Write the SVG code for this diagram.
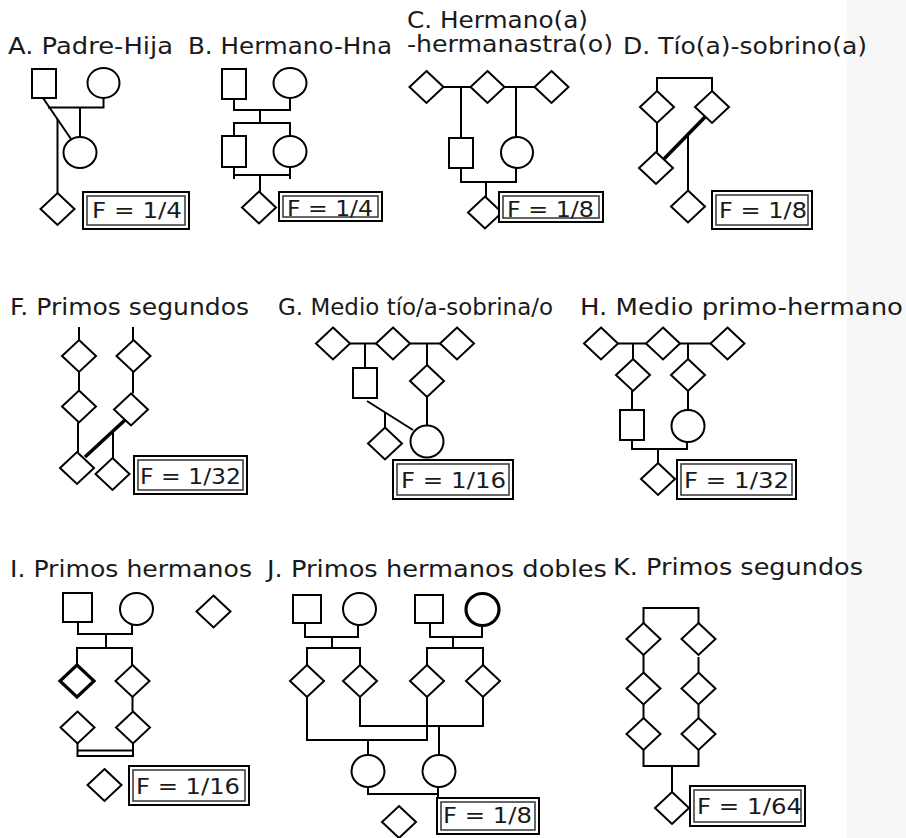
<svg xmlns="http://www.w3.org/2000/svg" width="906" height="838" viewBox="0 0 906 838">
<style>
.n{fill:#fff;stroke:#000;stroke-width:2}
.b{stroke-width:3.2}
.l{fill:none;stroke:#000;stroke-width:2}
.k{fill:none;stroke:#000;stroke-width:3.6}
.t{font-family:"DejaVu Sans",Verdana,sans-serif;font-size:23px;fill:#1a1a1a}
.f{font-family:"DejaVu Sans",Verdana,sans-serif;font-size:20.5px;fill:#1a1a1a}
.o{fill:#fff;stroke:#000;stroke-width:2}
.i{fill:none;stroke:#333;stroke-width:1.5}
</style>
<rect x="0" y="0" width="906" height="838" fill="#fff"/>
<rect x="847" y="0" width="59" height="838" fill="#f7f7f7"/>

<g id="titles">
<text class="t" x="8" y="54" textLength="165" lengthAdjust="spacingAndGlyphs">A. Padre-Hija</text>
<text class="t" x="188" y="54" textLength="204" lengthAdjust="spacingAndGlyphs">B. Hermano-Hna</text>
<text class="t" x="407" y="28" textLength="181" lengthAdjust="spacingAndGlyphs">C. Hermano(a)</text>
<text class="t" x="407" y="52" textLength="206" lengthAdjust="spacingAndGlyphs">-hermanastra(o)</text>
<text class="t" x="623" y="54" textLength="244" lengthAdjust="spacingAndGlyphs">D. Tío(a)-sobrino(a)</text>
<text class="t" x="10" y="315" textLength="239" lengthAdjust="spacingAndGlyphs">F. Primos segundos</text>
<text class="t" x="278" y="315" textLength="275" lengthAdjust="spacingAndGlyphs">G. Medio tío/a-sobrina/o</text>
<text class="t" x="580" y="315" textLength="323" lengthAdjust="spacingAndGlyphs">H. Medio primo-hermano</text>
<text class="t" x="10" y="577" textLength="242" lengthAdjust="spacingAndGlyphs">I. Primos hermanos</text>
<text class="t" x="267" y="577" textLength="340" lengthAdjust="spacingAndGlyphs">J. Primos hermanos dobles</text>
<text class="t" x="613" y="575" textLength="250" lengthAdjust="spacingAndGlyphs">K. Primos segundos</text>
</g>

<g id="connectors">
<!-- A -->
<line class="l" x1="43" y1="98" x2="71" y2="139"/>
<polyline class="l" points="48,107.5 103.5,107.5 103.5,98"/>
<line class="l" x1="80" y1="107.5" x2="80" y2="137"/>
<line class="l" x1="57.5" y1="119" x2="57.5" y2="193"/>
<!-- B -->
<polyline class="l" points="234,99 234,110 290,110 290,98"/>
<line class="l" x1="260" y1="110" x2="260" y2="123"/>
<polyline class="l" points="234,136 234,123 290,123 290,136"/>
<line class="l" x1="234" y1="167" x2="234" y2="179"/>
<line class="l" x1="290" y1="167" x2="290" y2="179"/>
<line class="l" x1="234" y1="175" x2="290" y2="175"/>
<line class="l" x1="260" y1="175" x2="260" y2="192"/>
<!-- C -->
<line class="l" x1="443" y1="87" x2="472" y2="87"/>
<line class="l" x1="503" y1="87" x2="535" y2="87"/>
<line class="l" x1="461" y1="87" x2="461" y2="138"/>
<line class="l" x1="516" y1="87" x2="516" y2="137"/>
<polyline class="l" points="461,168 461,182 516,182 516,168"/>
<line class="l" x1="486" y1="182" x2="486" y2="197"/>
<!-- D -->
<polyline class="l" points="657,91 657,78 712,78 712,91"/>
<line class="l" x1="657" y1="123" x2="657" y2="152"/>
<line class="k" x1="663" y1="160" x2="705" y2="117"/>
<line class="l" x1="688" y1="135" x2="688" y2="190.5"/>
<!-- F -->
<line class="l" x1="79" y1="327" x2="79" y2="340"/>
<line class="l" x1="79" y1="372" x2="79" y2="390.5"/>
<line class="l" x1="78" y1="422.5" x2="78" y2="452"/>
<line class="l" x1="133" y1="327" x2="133" y2="340"/>
<line class="l" x1="133" y1="372" x2="133" y2="393.5"/>
<line class="k" x1="85" y1="457" x2="125" y2="420"/>
<line class="l" x1="113" y1="431" x2="113" y2="458"/>
<!-- G -->
<line class="l" x1="349" y1="343.5" x2="377" y2="343.5"/>
<line class="l" x1="409" y1="343.5" x2="441" y2="343.5"/>
<line class="l" x1="365" y1="343.5" x2="365" y2="368"/>
<line class="l" x1="427" y1="343.5" x2="427" y2="365"/>
<line class="l" x1="427" y1="397" x2="427" y2="425"/>
<line class="l" x1="367" y1="401" x2="413" y2="430"/>
<line class="l" x1="385" y1="412" x2="385" y2="427.5"/>
<!-- H -->
<line class="l" x1="617" y1="343.5" x2="648" y2="343.5"/>
<line class="l" x1="678" y1="343.5" x2="712" y2="343.5"/>
<line class="l" x1="633" y1="343.5" x2="633" y2="359"/>
<line class="l" x1="688" y1="343.5" x2="688" y2="359"/>
<line class="l" x1="632" y1="391" x2="632" y2="410"/>
<line class="l" x1="688" y1="391" x2="688" y2="410"/>
<polyline class="l" points="632,440 632,449 687,449 687,442"/>
<line class="l" x1="658" y1="449" x2="658" y2="463"/>
<!-- I -->
<polyline class="l" points="78,622 78,634 132,634 132,625"/>
<line class="l" x1="106" y1="634" x2="106" y2="648"/>
<polyline class="l" points="77,665 77,648 132,648 132,665"/>
<line class="l" x1="132.5" y1="697" x2="132.5" y2="711.5"/>
<polyline class="l" points="77.5,743 77.5,756 133,756 133,743"/>
<line class="l" x1="77.5" y1="750.5" x2="133" y2="750.5"/>
<!-- J -->
<polyline class="l" points="305,623 305,637 358,637 358,625"/>
<line class="l" x1="332" y1="637" x2="332" y2="648"/>
<polyline class="l" points="307,665 307,648 360,648 360,665"/>
<polyline class="l" points="430,623 430,637 482,637 482,626"/>
<line class="l" x1="453" y1="637" x2="453" y2="648"/>
<polyline class="l" points="427,665 427,648 483,648 483,665"/>
<polyline class="l" points="307,697 307,740 427,740 427,697"/>
<polyline class="l" points="360,697 360,726 483,726 483,697"/>
<line class="l" x1="368" y1="740" x2="368" y2="755"/>
<line class="l" x1="439" y1="726" x2="439" y2="755"/>
<polyline class="l" points="368,787 368,794 438,794"/>
<line class="l" x1="438" y1="787" x2="438" y2="834"/>
<!-- K -->
<polyline class="l" points="643.5,623 643.5,608 698.5,608 698.5,623"/>
<line class="l" x1="643.5" y1="655" x2="643.5" y2="672.5"/>
<line class="l" x1="698.5" y1="657" x2="698.5" y2="672.5"/>
<line class="l" x1="643.5" y1="704.5" x2="643.5" y2="718"/>
<line class="l" x1="698.5" y1="704.5" x2="698.5" y2="718"/>
<polyline class="l" points="643.5,750 643.5,766 698.5,766 698.5,750"/>
<line class="l" x1="672" y1="766" x2="672" y2="792"/>
</g>

<!-- A nodes -->
<g id="A-father"><rect class="n" x="32" y="69" width="24" height="29"/></g>
<g id="A-mother"><ellipse class="n" cx="103.5" cy="83" rx="16" ry="15"/></g>
<g id="A-daughter"><ellipse class="n" cx="80" cy="152.5" rx="16.5" ry="15.5"/></g>
<g id="A-child"><polygon class="n" points="57.5,193 74.5,209 57.5,225 40.5,209"/></g>
<g id="A-F"><rect class="o" x="83" y="192" width="106" height="37"/><rect class="i" x="87" y="196" width="98" height="29"/><text class="f" x="92" y="218" textLength="90" lengthAdjust="spacingAndGlyphs">F = 1/4</text></g>

<!-- B nodes -->
<g id="B-father"><rect class="n" x="222" y="69" width="24" height="30"/></g>
<g id="B-mother"><ellipse class="n" cx="290" cy="83" rx="16.5" ry="15"/></g>
<g id="B-brother"><rect class="n" x="222" y="136" width="24" height="31"/></g>
<g id="B-sister"><ellipse class="n" cx="290" cy="151.5" rx="16.5" ry="15.5"/></g>
<g id="B-child"><polygon class="n" points="259,191.5 276,207.5 259,223.5 242,207.5"/></g>
<g id="B-F"><rect class="o" x="279" y="192" width="103" height="29"/><rect class="i" x="283" y="196" width="95" height="21"/><text class="f" x="287" y="216" textLength="86" lengthAdjust="spacingAndGlyphs">F = 1/4</text></g>

<!-- C nodes -->
<g id="C-p1"><polygon class="n" points="426.5,71 443.5,87 426.5,103 409.5,87"/></g>
<g id="C-p2"><polygon class="n" points="487.5,71 504.5,87 487.5,103 470.5,87"/></g>
<g id="C-p3"><polygon class="n" points="551.5,71 568.5,87 551.5,103 534.5,87"/></g>
<g id="C-son"><rect class="n" x="449" y="138" width="24" height="30"/></g>
<g id="C-daughter"><ellipse class="n" cx="517" cy="152.5" rx="16" ry="15.5"/></g>
<g id="C-child"><polygon class="n" points="485,196.5 502,212.5 485,228.5 468,212.5"/></g>
<g id="C-F"><rect class="o" x="499" y="192" width="104" height="30"/><rect class="i" x="503" y="196" width="96" height="22"/><text class="f" x="507" y="217" textLength="87" lengthAdjust="spacingAndGlyphs">F = 1/8</text></g>

<!-- D nodes -->
<g id="D-s1"><polygon class="n" points="657,91 674,107 657,123 640,107"/></g>
<g id="D-s2"><polygon class="n" points="712,91 729,107 712,123 695,107"/></g>
<g id="D-c1"><polygon class="n" points="656,152 673,168 656,184 639,168"/></g>
<g id="D-child"><polygon class="n" points="688,190.5 705,206.5 688,222.5 671,206.5"/></g>
<g id="D-F"><rect class="o" x="712" y="191" width="100" height="38"/><rect class="i" x="716" y="195" width="92" height="30"/><text class="f" x="719" y="218" textLength="88" lengthAdjust="spacingAndGlyphs">F = 1/8</text></g>

<!-- F nodes -->
<g id="F-a1"><polygon class="n" points="79,340 96,356 79,372 62,356"/></g>
<g id="F-a2"><polygon class="n" points="79,390.5 96,406.5 79,422.5 62,406.5"/></g>
<g id="F-a3"><polygon class="n" points="77,452 94,468 77,484 60,468"/></g>
<g id="F-b1"><polygon class="n" points="133.5,340 150.5,356 133.5,372 116.5,356"/></g>
<g id="F-b2"><polygon class="n" points="131,393.5 148,409.5 131,425.5 114,409.5"/></g>
<g id="F-child"><polygon class="n" points="112.5,458 129.5,474 112.5,490 95.5,474"/></g>
<g id="F-F"><rect class="o" x="134" y="456" width="113" height="38"/><rect class="i" x="138" y="460" width="105" height="30"/><text class="f" x="140" y="484" textLength="101" lengthAdjust="spacingAndGlyphs">F = 1/32</text></g>

<!-- G nodes -->
<g id="G-p1"><polygon class="n" points="333,327.5 350,343.5 333,359.5 316,343.5"/></g>
<g id="G-p2"><polygon class="n" points="393,327.5 410,343.5 393,359.5 376,343.5"/></g>
<g id="G-p3"><polygon class="n" points="457,327.5 474,343.5 457,359.5 440,343.5"/></g>
<g id="G-uncle"><rect class="n" x="353" y="368" width="24" height="30"/></g>
<g id="G-sib"><polygon class="n" points="427,365 444,381 427,397 410,381"/></g>
<g id="G-niece"><ellipse class="n" cx="427" cy="441.5" rx="16.5" ry="16"/></g>
<g id="G-child"><polygon class="n" points="385,427.5 402,443.5 385,459.5 368,443.5"/></g>
<g id="G-F"><rect class="o" x="393" y="460" width="120" height="39"/><rect class="i" x="397" y="464" width="112" height="31"/><text class="f" x="401" y="488" textLength="105" lengthAdjust="spacingAndGlyphs">F = 1/16</text></g>

<!-- H nodes -->
<g id="H-p1"><polygon class="n" points="601,327.5 618,343.5 601,359.5 584,343.5"/></g>
<g id="H-p2"><polygon class="n" points="663,327.5 680,343.5 663,359.5 646,343.5"/></g>
<g id="H-p3"><polygon class="n" points="727.5,327.5 744.5,343.5 727.5,359.5 710.5,343.5"/></g>
<g id="H-c1"><polygon class="n" points="633,359 650,375 633,391 616,375"/></g>
<g id="H-c2"><polygon class="n" points="688,359 705,375 688,391 671,375"/></g>
<g id="H-male"><rect class="n" x="620" y="410" width="24" height="30"/></g>
<g id="H-female"><ellipse class="n" cx="688" cy="426" rx="16.5" ry="16"/></g>
<g id="H-child"><polygon class="n" points="658,463 675,479 658,495 641,479"/></g>
<g id="H-F"><rect class="o" x="677" y="460" width="119" height="39"/><rect class="i" x="681" y="464" width="111" height="31"/><text class="f" x="684" y="488" textLength="105" lengthAdjust="spacingAndGlyphs">F = 1/32</text></g>

<!-- I nodes -->
<g id="I-father"><rect class="n" x="63" y="593" width="29" height="29"/></g>
<g id="I-mother"><ellipse class="n" cx="136.5" cy="609" rx="16.5" ry="16"/></g>
<g id="I-extra"><polygon class="n" points="213.5,595.5 230.5,611.5 213.5,627.5 196.5,611.5"/></g>
<g id="I-s1"><polygon class="n b" points="77,665 94,681 77,697 60,681"/></g>
<g id="I-s2"><polygon class="n" points="132.5,665 149.5,681 132.5,697 115.5,681"/></g>
<g id="I-c1"><polygon class="n" points="77.5,711.5 94.5,727.5 77.5,743.5 60.5,727.5"/></g>
<g id="I-c2"><polygon class="n" points="133,711.5 150,727.5 133,743.5 116,727.5"/></g>
<g id="I-child"><polygon class="n" points="104.5,769 121.5,785 104.5,801 87.5,785"/></g>
<g id="I-F"><rect class="o" x="129" y="766" width="120" height="39"/><rect class="i" x="133" y="770" width="112" height="31"/><text class="f" x="136" y="794" textLength="104" lengthAdjust="spacingAndGlyphs">F = 1/16</text></g>

<!-- J nodes -->
<g id="J-f1"><rect class="n" x="293" y="595" width="28" height="28"/></g>
<g id="J-m1"><ellipse class="n" cx="359.5" cy="609" rx="16.5" ry="16"/></g>
<g id="J-f2"><rect class="n" x="415" y="595" width="28" height="28"/></g>
<g id="J-m2"><ellipse class="n b" cx="482.5" cy="609.5" rx="16.5" ry="16"/></g>
<g id="J-s1"><polygon class="n" points="307,665 324,681 307,697 290,681"/></g>
<g id="J-s2"><polygon class="n" points="360,665 377,681 360,697 343,681"/></g>
<g id="J-s3"><polygon class="n" points="427,665 444,681 427,697 410,681"/></g>
<g id="J-s4"><polygon class="n" points="483,665 500,681 483,697 466,681"/></g>
<g id="J-c1"><ellipse class="n" cx="368" cy="771" rx="16.5" ry="16"/></g>
<g id="J-c2"><ellipse class="n" cx="439" cy="771" rx="16.5" ry="16"/></g>
<g id="J-child"><polygon class="n" points="399,806 416,822 399,838 382,822"/></g>
<g id="J-F"><rect class="o" x="437" y="798" width="102" height="36"/><rect class="i" x="441" y="802" width="94" height="28"/><text class="f" x="443" y="823" textLength="89" lengthAdjust="spacingAndGlyphs">F = 1/8</text></g>

<!-- K nodes -->
<g id="K-a1"><polygon class="n" points="643.5,623 660.5,639 643.5,655 626.5,639"/></g>
<g id="K-b1"><polygon class="n" points="698.5,623 715.5,639 698.5,655 681.5,639"/></g>
<g id="K-a2"><polygon class="n" points="643.5,672.5 660.5,688.5 643.5,704.5 626.5,688.5"/></g>
<g id="K-b2"><polygon class="n" points="698.5,672.5 715.5,688.5 698.5,704.5 681.5,688.5"/></g>
<g id="K-a3"><polygon class="n" points="643.5,718 660.5,734 643.5,750 626.5,734"/></g>
<g id="K-b3"><polygon class="n" points="698.5,718 715.5,734 698.5,750 681.5,734"/></g>
<g id="K-child"><polygon class="n" points="672,792 689,808 672,824 655,808"/></g>
<g id="K-F"><rect class="o" x="690" y="786" width="115" height="40"/><rect class="i" x="694" y="790" width="107" height="32"/><text class="f" x="697" y="814" textLength="105" lengthAdjust="spacingAndGlyphs">F = 1/64</text></g>
</svg>
